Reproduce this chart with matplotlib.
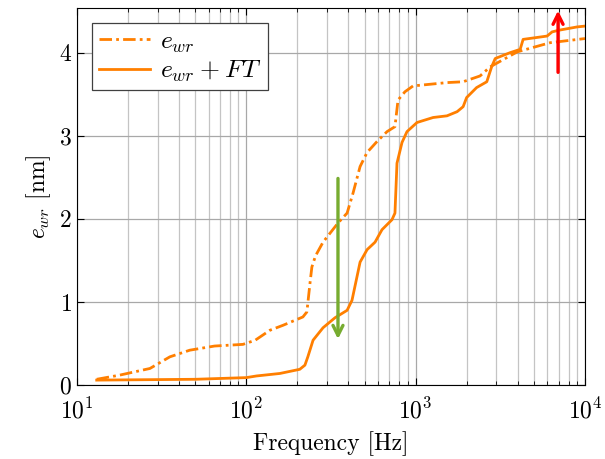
import numpy as np
import matplotlib.pyplot as plt

plt.rcParams['font.family'] = 'serif'
plt.rcParams['font.serif'] = ['cmr10', 'DejaVu Serif']
plt.rcParams['mathtext.fontset'] = 'cm'
plt.rcParams['axes.formatter.use_mathtext'] = True

orange = '#ff7f00'

# e_wr (dash-dot)
f_wr = [13.1, 17.9, 27, 35.4, 46.4, 65, 95.6, 113, 138, 165, 216, 228, 238, 244,
        255, 262, 284, 348, 394, 427, 470, 517, 591, 678, 755, 787, 865, 966,
        1531, 1905, 2400, 2755, 3980, 6220, 10000]
e_wr = [0.07, 0.12, 0.2, 0.34, 0.42, 0.47, 0.49, 0.54, 0.66, 0.72, 0.82, 0.88, 1.23, 1.42,
        1.54, 1.59, 1.72, 1.95, 2.07, 2.31, 2.63, 2.8, 2.93, 3.05, 3.11, 3.43, 3.53, 3.6,
        3.64, 3.65, 3.72, 3.83, 4.01, 4.12, 4.17]

# e_wr + FT (solid)
f_ft = [13.1, 50, 100, 115, 158, 207, 222, 231, 248, 284, 334, 394, 421, 470, 517,
        576, 633, 725, 755, 776, 831, 889, 1019, 1268, 1531, 1757, 1907, 2000, 2290,
        2630, 2810, 2950, 3610, 4140, 4310, 5970, 6390, 7000, 8980, 10000]
e_ft = [0.06, 0.07, 0.09, 0.11, 0.14, 0.19, 0.24, 0.34, 0.54, 0.69, 0.81, 0.9, 1.02,
        1.48, 1.63, 1.72, 1.87, 1.99, 2.07, 2.67, 2.92, 3.05, 3.16, 3.22, 3.24, 3.29,
        3.35, 3.46, 3.58, 3.65, 3.83, 3.93, 4.0, 4.04, 4.16, 4.2, 4.25, 4.27, 4.31, 4.32]

fig = plt.figure(figsize=(6.05, 4.59), dpi=100)
ax = fig.add_axes([0.127, 0.161, 0.84, 0.822])

ax.plot(f_wr, e_wr, color=orange, lw=2, linestyle=(0, (4.5, 1.5, 1, 1.5)), label=r'$e_{wr}$')
ax.plot(f_ft, e_ft, color=orange, lw=2, label=r'$e_{wr}\:+\:FT$')

# arrows
ax.annotate('', xy=(348, 0.52), xytext=(348, 2.52),
            arrowprops=dict(arrowstyle='->', color='#77ac30', lw=2.4, mutation_scale=18))
ax.annotate('', xy=(6930, 4.54), xytext=(6930, 3.73),
            arrowprops=dict(arrowstyle='->', color='red', lw=2.4, mutation_scale=18),
            annotation_clip=False)

ax.set_xscale('log')
ax.set_xlim(10, 1e4)
ax.set_ylim(0, 4.54)
ax.set_yticks([0, 1, 2, 3, 4])
ax.grid(True, which='major', color='#a8a8a8', lw=0.9)
ax.grid(True, which='minor', axis='x', color='#c4c4c4', lw=0.9)
ax.tick_params(which='both', direction='in', top=True, right=True, labelsize=17)
ax.tick_params(axis='x', pad=9)
ax.tick_params(which='major', length=5)
ax.tick_params(which='minor', length=3)
ax.set_xlabel('Frequency [Hz]', fontsize=17, labelpad=6)
ax.set_ylabel(r'$e_{wr}$ [nm]', fontsize=17)

leg = ax.legend(loc='upper left', fontsize=18.5, fancybox=False, framealpha=1,
                edgecolor='#404040', handlelength=2.0, handletextpad=0.4,
                borderaxespad=0.6, labelspacing=0.15, borderpad=0.25)
leg.get_frame().set_linewidth(0.9)

fig.savefig('out.png', dpi=100)
